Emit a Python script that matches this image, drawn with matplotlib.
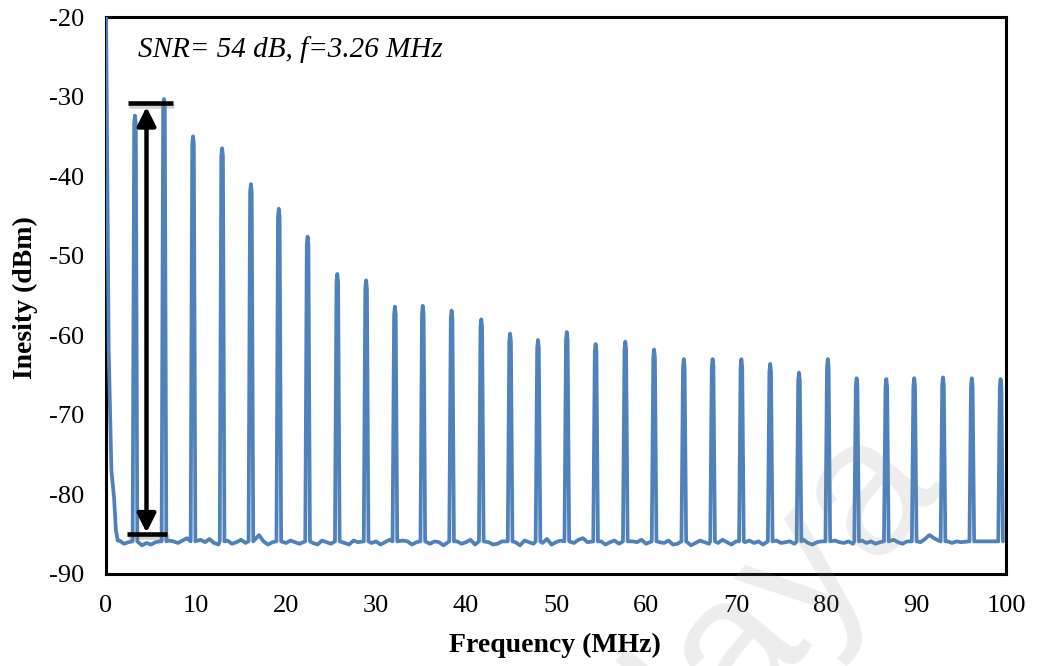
import matplotlib
matplotlib.use("Agg")
import matplotlib.pyplot as plt
import matplotlib.patheffects as pe
import numpy as np

plt.rcParams['font.family'] = ['Liberation Serif', 'DejaVu Serif']
plt.rcParams['axes.unicode_minus'] = False

# comb lines of the beat spectrum (MHz, dBm)
peak_freq = [3.22, 6.44, 9.67, 12.9, 16.1, 19.2, 22.4, 25.7, 28.9, 32.1,
             35.2, 38.4, 41.7, 44.9, 48.0, 51.2, 54.4, 57.7, 60.9, 64.2,
             67.4, 70.6, 73.8, 77.0, 80.2, 83.4, 86.7, 89.8, 93.0, 96.2, 99.4]
peak_db = [-32.4, -30.3, -35.0, -36.5, -41.0, -44.1, -47.6, -52.3, -53.1, -56.4,
           -56.3, -56.9, -58.0, -59.8, -60.6, -59.6, -61.1, -60.8, -61.8, -63.0,
           -63.0, -63.0, -63.6, -64.7, -63.0, -65.4, -65.5, -65.4, -65.3, -65.4, -65.5]

# DC roll-off at the start of the trace
dc_freq = [0.0, 0.3, 0.6, 0.9, 1.1, 1.3]
dc_db = [-19.0, -62.0, -77.0, -80.5, -84.5, -85.8]

# noise floor, every 0.5 MHz from 1.5 to 100 MHz
floor_db = [
    -85.8, -86.2, -86.0, -85.7, -86.3, -86.4, -86.1, -86.3, -86.0, -85.9,
    -86.0, -85.8, -85.9, -86.1, -85.8, -85.5, -85.9, -86.2, -85.7, -86.0,
    -85.6, -86.1, -86.3, -85.9, -85.8, -86.2, -86.0, -85.7, -86.1, -85.9,
    -86.0, -85.1, -85.9, -86.3, -86.0, -85.7, -86.2, -86.1, -85.8, -86.0,
    -86.2, -85.9, -85.6, -86.1, -86.3, -85.8, -86.0, -86.2, -85.7, -85.9,
    -86.1, -86.3, -85.8, -86.0, -85.6, -86.2, -86.1, -85.9, -86.3, -86.0,
    -85.7, -86.1, -86.2, -85.8, -85.9, -86.3, -86.0, -85.6, -86.1, -86.2,
    -85.9, -86.0, -86.4, -85.8, -86.1, -85.9, -86.2, -86.0, -85.7, -86.3,
    -86.1, -85.8, -86.0, -86.3, -86.2, -85.9, -85.7, -86.1, -86.0, -86.4,
    -85.8, -86.0, -86.2, -85.9, -86.1, -85.6, -86.3, -86.0, -85.8, -86.2,
    -85.9, -86.1, -85.7, -85.5, -86.0, -86.2, -86.1, -85.9, -86.3, -86.0,
    -85.8, -86.2, -86.4, -86.1, -85.9, -86.0, -85.7, -86.2, -86.3, -85.9,
    -86.0, -86.1, -85.8, -86.3, -86.2, -85.9, -86.0, -86.4, -86.1, -85.8,
    -86.0, -86.2, -85.9, -86.1, -85.7, -86.0, -86.3, -85.9, -86.2, -86.0,
    -85.8, -86.1, -85.9, -86.3, -86.0, -86.2, -85.8, -86.1, -86.0, -85.9,
    -86.2, -86.0, -85.7, -86.1, -86.3, -86.0, -85.9, -86.2, -86.1, -85.8,
    -86.0, -86.1, -85.9, -86.2, -86.0, -85.8, -86.1, -85.9, -86.2, -86.0,
    -85.9, -86.1, -85.7, -86.0, -86.2, -85.9, -86.1, -85.8, -86.0, -85.6,
    -85.1, -85.5, -85.8, -86.0, -85.9, -86.1, -85.9, -86.0,
]
floor_freq = [1.5 + 0.5 * i for i in range(len(floor_db))]

snr_text = "SNR= 54 dB, f=3.26 MHz"
x_ticks = [0, 10, 20, 30, 40, 50, 60, 70, 80, 90, 100]
y_ticks = [-90, -80, -70, -60, -50, -40, -30, -20]

# assemble the trace: dc part, floor points away from the lines, and each line
pts = list(zip(dc_freq, dc_db))
for f, v in zip(floor_freq, floor_db):
    if min(abs(f - p) for p in peak_freq) > 0.4:
        pts.append((f, v))
for f, h in zip(peak_freq, peak_db):
    pts += [(f - 0.26, -85.9), (f - 0.09, h - 1.0), (f, h), (f + 0.09, h - 1.0), (f + 0.26, -85.9)]
pts.sort(key=lambda p: p[0])
tx, ty = zip(*pts)

fig = plt.figure(figsize=(10.37, 6.66), dpi=100)
ax = fig.add_axes([106 / 1037, 1 - 574 / 666, 900 / 1037, 557 / 666])

ax.plot(tx, ty, color='#4F81BD', lw=2.7, solid_joinstyle='round', solid_capstyle='round', zorder=3)

# SNR marker: two bars and a double arrow
shadow = [pe.SimpleLineShadow(offset=(1, -2), shadow_color='gray', alpha=0.35), pe.Normal()]
ax.plot([2.45, 7.45], [-30.8, -30.8], color='black', lw=3.3, solid_capstyle='butt', zorder=4, path_effects=shadow)
ax.plot([2.3, 6.8], [-85.0, -85.0], color='black', lw=3.3, solid_capstyle='butt', zorder=4, path_effects=shadow)
ax.annotate('', xy=(4.5, -31.3), xytext=(4.5, -84.8),
            arrowprops=dict(arrowstyle='<|-|>,head_length=0.7,head_width=0.35', lw=3.2,
                            color='black', mutation_scale=16, shrinkA=0, shrinkB=0),
            zorder=5)

ax.text(3.55, -25.0, snr_text, fontsize=21, style='italic', va='baseline', ha='left')

ax.set_xlim(0, 100)
ax.set_ylim(-90, -20)
ax.set_xticks(x_ticks)
ax.set_yticks(y_ticks)
ax.tick_params(length=0, labelsize=19)
ax.tick_params(axis='x', pad=15)
ax.tick_params(axis='y', pad=16)
for s in ax.spines.values():
    s.set_linewidth(2.2)
    s.set_color('black')

ax.set_xlabel('Frequency (MHz)', fontsize=20, fontweight='bold')
ax.set_ylabel('Inesity (dBm)', fontsize=20, fontweight='bold')
ax.xaxis.set_label_coords(0.499, -0.1275)
ax.xaxis.label.set_va('center')
ax.yaxis.set_label_coords(-0.09, 0.497)
ax.yaxis.label.set_va('center')

# repository watermark
fig.text(940 / 1037, 1 - 476 / 666, 'Malaya', fontsize=140, family='Liberation Sans',
         color='#888888', alpha=0.15, rotation=50, rotation_mode='anchor',
         ha='right', va='baseline', zorder=10)

fig.savefig('out.png', dpi=100)
